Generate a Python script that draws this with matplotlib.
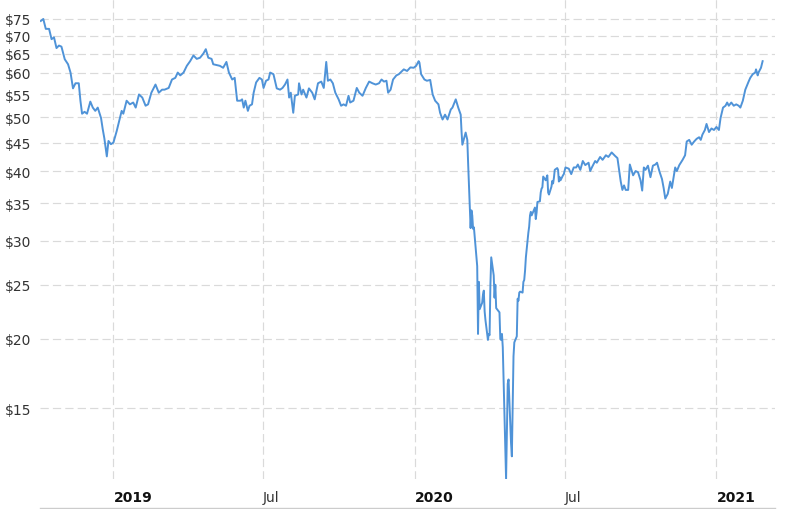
import matplotlib
matplotlib.use("Agg")
import matplotlib.pyplot as plt
import matplotlib.transforms as mtransforms
from matplotlib.ticker import FixedLocator, NullLocator
from matplotlib.lines import Line2D
import pandas as pd

# ---- data ----
dates = [
    "2018-10-05", "2018-10-08", "2018-10-11", "2018-10-15", "2018-10-18", "2018-10-21",
    "2018-10-24", "2018-10-27", "2018-10-30", "2018-11-03", "2018-11-07", "2018-11-10",
    "2018-11-13", "2018-11-16", "2018-11-20", "2018-11-22", "2018-11-24", "2018-11-27",
    "2018-11-30", "2018-12-04", "2018-12-07", "2018-12-10", "2018-12-13", "2018-12-15",
    "2018-12-17", "2018-12-19", "2018-12-21", "2018-12-24", "2018-12-26", "2018-12-29",
    "2019-01-01", "2019-01-05", "2019-01-08", "2019-01-11", "2019-01-13", "2019-01-17",
    "2019-01-21", "2019-01-25", "2019-01-28", "2019-02-01", "2019-02-05", "2019-02-09",
    "2019-02-12", "2019-02-16", "2019-02-21", "2019-02-25", "2019-03-01", "2019-03-04",
    "2019-03-09", "2019-03-13", "2019-03-17", "2019-03-20", "2019-03-23", "2019-03-27",
    "2019-03-31", "2019-04-04", "2019-04-08", "2019-04-12", "2019-04-16", "2019-04-20",
    "2019-04-23", "2019-04-26", "2019-04-30", "2019-05-02", "2019-05-06", "2019-05-10",
    "2019-05-14", "2019-05-18", "2019-05-21", "2019-05-25", "2019-05-28", "2019-05-31",
    "2019-06-04", "2019-06-06", "2019-06-08", "2019-06-10", "2019-06-13", "2019-06-15",
    "2019-06-18", "2019-06-20", "2019-06-23", "2019-06-27", "2019-06-30", "2019-07-02",
    "2019-07-05", "2019-07-08", "2019-07-10", "2019-07-14", "2019-07-18", "2019-07-22",
    "2019-07-25", "2019-07-28", "2019-07-31", "2019-08-02", "2019-08-04", "2019-08-07",
    "2019-08-09", "2019-08-13", "2019-08-14", "2019-08-17", "2019-08-19", "2019-08-23",
    "2019-08-26", "2019-08-30", "2019-09-02", "2019-09-06", "2019-09-10", "2019-09-13",
    "2019-09-16", "2019-09-18", "2019-09-21", "2019-09-24", "2019-09-27", "2019-10-01",
    "2019-10-04", "2019-10-07", "2019-10-10", "2019-10-13", "2019-10-15", "2019-10-19",
    "2019-10-23", "2019-10-26", "2019-10-30", "2019-11-03", "2019-11-07", "2019-11-11",
    "2019-11-15", "2019-11-19", "2019-11-22", "2019-11-25", "2019-11-28", "2019-11-30",
    "2019-12-03", "2019-12-06", "2019-12-10", "2019-12-13", "2019-12-15", "2019-12-19",
    "2019-12-23", "2019-12-27", "2019-12-31", "2020-01-03", "2020-01-06", "2020-01-07",
    "2020-01-09", "2020-01-13", "2020-01-16", "2020-01-20", "2020-01-23", "2020-01-26",
    "2020-01-30", "2020-02-01", "2020-02-04", "2020-02-07", "2020-02-10", "2020-02-14",
    "2020-02-16", "2020-02-20", "2020-02-23", "2020-02-26", "2020-02-27", "2020-02-28",
    "2020-03-03", "2020-03-05", "2020-03-06", "2020-03-09", "2020-03-10", "2020-03-11",
    "2020-03-12", "2020-03-13", "2020-03-16", "2020-03-17", "2020-03-18", "2020-03-19",
    "2020-03-20", "2020-03-23", "2020-03-24", "2020-03-25", "2020-03-26", "2020-03-27",
    "2020-03-30", "2020-03-31", "2020-04-01", "2020-04-02", "2020-04-03", "2020-04-06",
    "2020-04-07", "2020-04-08", "2020-04-09", "2020-04-13", "2020-04-14", "2020-04-15",
    "2020-04-16", "2020-04-17", "2020-04-21", "2020-04-22", "2020-04-23", "2020-04-24",
    "2020-04-27", "2020-04-28", "2020-04-29", "2020-04-30", "2020-05-01", "2020-05-04",
    "2020-05-05", "2020-05-06", "2020-05-07", "2020-05-08", "2020-05-11", "2020-05-12",
    "2020-05-13", "2020-05-14", "2020-05-15", "2020-05-18", "2020-05-19", "2020-05-20",
    "2020-05-21", "2020-05-22", "2020-05-26", "2020-05-27", "2020-05-28", "2020-05-29",
    "2020-06-01", "2020-06-02", "2020-06-03", "2020-06-04", "2020-06-05", "2020-06-08",
    "2020-06-09", "2020-06-10", "2020-06-11", "2020-06-12", "2020-06-15", "2020-06-16",
    "2020-06-17", "2020-06-18", "2020-06-19", "2020-06-22", "2020-06-23", "2020-06-24",
    "2020-06-25", "2020-06-26", "2020-06-29", "2020-06-30", "2020-07-02", "2020-07-06",
    "2020-07-09", "2020-07-12", "2020-07-15", "2020-07-17", "2020-07-20", "2020-07-23",
    "2020-07-26", "2020-07-30", "2020-08-01", "2020-08-03", "2020-08-07", "2020-08-09",
    "2020-08-13", "2020-08-16", "2020-08-20", "2020-08-23", "2020-08-27", "2020-08-31",
    "2020-09-03", "2020-09-05", "2020-09-07", "2020-09-09", "2020-09-11", "2020-09-13",
    "2020-09-16", "2020-09-18", "2020-09-22", "2020-09-25", "2020-09-28", "2020-10-01",
    "2020-10-03", "2020-10-05", "2020-10-07", "2020-10-10", "2020-10-13", "2020-10-16",
    "2020-10-19", "2020-10-21", "2020-10-24", "2020-10-27", "2020-10-29", "2020-10-31",
    "2020-11-03", "2020-11-06", "2020-11-08", "2020-11-12", "2020-11-14", "2020-11-17",
    "2020-11-21", "2020-11-24", "2020-11-26", "2020-11-29", "2020-12-02", "2020-12-05",
    "2020-12-08", "2020-12-11", "2020-12-13", "2020-12-15", "2020-12-18", "2020-12-20",
    "2020-12-23", "2020-12-26", "2020-12-29", "2021-01-01", "2021-01-04", "2021-01-06",
    "2021-01-09", "2021-01-12", "2021-01-14", "2021-01-16", "2021-01-19", "2021-01-22",
    "2021-01-25", "2021-01-28", "2021-01-30", "2021-02-02", "2021-02-05", "2021-02-09",
    "2021-02-11", "2021-02-14", "2021-02-17", "2021-02-18", "2021-02-20", "2021-02-21",
    "2021-02-24", "2021-02-26",
]

prices = [
    74.4, 75.0, 72.0, 72.0, 69.0, 69.5,
    66.5, 67.2, 66.9, 63.5, 62.2, 60.1,
    56.3, 57.5, 57.5, 53.5, 50.7, 51.1,
    50.7, 53.3, 52.0, 51.3, 52.0, 50.9,
    49.8, 47.6, 45.8, 42.5, 45.3, 44.7,
    45.0, 47.2, 49.2, 51.3, 50.7, 53.5,
    52.7, 53.1, 52.0, 54.9, 54.2, 52.4,
    52.7, 55.3, 57.2, 55.3, 56.0, 56.0,
    56.4, 58.4, 58.8, 60.1, 59.4, 60.1,
    61.8, 63.0, 64.5, 63.6, 63.9, 65.0,
    66.2, 63.9, 63.6, 62.2, 62.0, 61.8,
    61.3, 62.8, 60.1, 58.4, 58.8, 53.5,
    53.5, 53.8, 52.0, 53.5, 51.3, 52.4,
    52.7, 55.3, 57.7, 58.8, 58.4, 56.4,
    58.1, 58.4, 60.1, 59.7, 56.3, 56.0,
    56.4, 57.2, 58.4, 54.2, 55.3, 50.9,
    54.6, 54.9, 57.5, 54.9, 56.0, 54.2,
    56.3, 55.3, 53.8, 57.5, 57.9, 56.4,
    62.8, 58.1, 58.4, 57.5, 55.3, 53.8,
    52.4, 52.7, 52.4, 54.6, 53.1, 53.5,
    56.4, 55.3, 54.6, 56.4, 57.9, 57.5,
    57.2, 57.5, 58.4, 57.9, 58.1, 55.3,
    56.0, 58.4, 59.4, 59.7, 60.1, 60.9,
    60.5, 61.4, 61.3, 61.8, 63.0, 62.6,
    59.7, 58.4, 58.1, 58.3, 54.9, 53.5,
    52.7, 50.9, 49.5, 50.5, 49.5, 51.6,
    52.0, 53.8, 52.0, 50.5, 47.1, 44.6,
    46.9, 45.5, 41.3, 31.6, 34.0, 33.3,
    31.5, 31.7, 28.0, 27.0, 20.4, 25.3,
    22.6, 23.2, 24.0, 24.4, 22.4, 21.6,
    19.9, 20.4, 20.3, 25.0, 28.0, 26.0,
    23.7, 25.0, 22.7, 22.3, 20.0, 19.9,
    20.4, 19.3, 11.2, 13.8, 16.6, 16.9,
    13.0, 12.3, 15.2, 18.6, 19.7, 20.2,
    23.6, 23.4, 24.2, 24.3, 24.2, 25.3,
    25.5, 26.5, 28.0, 31.0, 31.8, 33.3,
    33.8, 33.3, 34.4, 32.8, 33.7, 35.2,
    35.3, 36.6, 37.2, 37.4, 39.1, 38.5,
    38.9, 39.3, 36.6, 36.3, 37.5, 38.4,
    38.0, 38.9, 40.2, 40.5, 40.2, 38.3,
    39.0, 38.5, 39.3, 39.5, 40.6, 40.4,
    39.5, 40.6, 40.6, 41.1, 40.2, 41.7,
    41.0, 41.4, 40.0, 40.6, 41.7, 41.4,
    42.4, 41.9, 42.7, 42.4, 43.2, 42.6,
    42.2, 40.2, 38.3, 37.0, 37.7, 37.0,
    37.0, 41.1, 39.3, 40.0, 39.8, 38.5,
    36.9, 40.6, 40.2, 40.9, 39.0, 40.9,
    41.1, 41.4, 39.9, 38.7, 37.3, 35.7,
    36.4, 38.3, 37.3, 40.6, 40.0, 41.0,
    41.9, 42.7, 45.2, 45.5, 44.6, 45.2,
    45.7, 46.0, 45.5, 46.5, 47.4, 48.6,
    47.0, 47.7, 47.4, 48.0, 47.4, 49.8,
    52.0, 52.4, 53.1, 52.4, 53.1, 52.4,
    52.7, 52.4, 52.0, 53.5, 56.0, 57.9,
    58.8, 59.7, 60.1, 60.9, 59.4, 60.1,
    61.3, 63.0,
]

ytick_values = [15, 20, 25, 30, 35, 40, 45, 50, 55, 60, 65, 70, 75]
xtick_dates = ["2019-01-01", "2019-07-01", "2020-01-01", "2020-07-01", "2021-01-01"]
xtick_labels = ["2019", "Jul", "2020", "Jul", "2021"]

# ---- figure ----
W, H = 790, 510
fig = plt.figure(figsize=(W / 100, H / 100), dpi=100)
ax = fig.add_axes([40 / W, 30 / H, 735 / W, 480 / H])

ax.plot(pd.to_datetime(dates), prices, color="#4f93d8", lw=1.4,
        solid_joinstyle="round", zorder=3)

ax.set_yscale("log")
ax.set_ylim(11.2, 81.46)
ax.set_xlim(pd.Timestamp("2018-10-04"), pd.Timestamp("2021-03-13"))

ax.yaxis.set_major_locator(FixedLocator(ytick_values))
ax.yaxis.set_minor_locator(NullLocator())
ax.set_yticklabels([f"${v}" for v in ytick_values])

ax.set_xticks(pd.to_datetime(xtick_dates))
ax.set_xticklabels(xtick_labels)
ax.xaxis.set_minor_locator(NullLocator())

offset = mtransforms.ScaledTranslation(3 / 100, 0, fig.dpi_scale_trans)
for lbl, txt in zip(ax.get_xticklabels(), xtick_labels):
    lbl.set_ha("left")
    lbl.set_transform(lbl.get_transform() + offset)
    if txt.isdigit():
        lbl.set_fontweight("bold")
        lbl.set_color("#111111")
    else:
        lbl.set_color("#333333")

ax.tick_params(length=0)
ax.tick_params(axis="y", pad=6, labelsize=10, labelcolor="#333333")
ax.tick_params(axis="x", pad=8, labelsize=10)

ax.grid(True, which="major", color="#dadada", linestyle=(0, (7, 3.5)), lw=0.85)
ax.set_axisbelow(True)
for s in ax.spines.values():
    s.set_visible(False)

fig.add_artist(Line2D([40 / W, 775 / W], [1.5 / H, 1.5 / H],
                      color="#cccccc", lw=1, transform=fig.transFigure))

fig.savefig("out.png", dpi=100)
